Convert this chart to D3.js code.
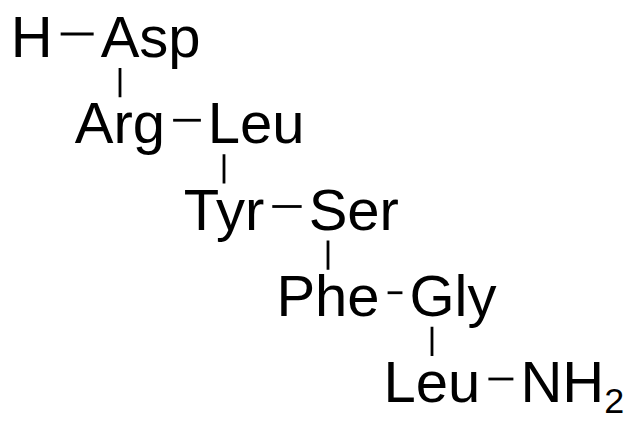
<!DOCTYPE html>
<html>
<head>
<meta charset="utf-8">
<script src="https://cdnjs.cloudflare.com/ajax/libs/d3/7.8.5/d3.min.js"></script>
<style>
  body { margin: 0; background: #fff; }
  svg text { font-family: "Liberation Sans", Arial, sans-serif; fill: #000; }
</style>
</head>
<body>
<div id="chart"></div>
<script>
// peptide H-Asp-Arg-Leu-Tyr-Ser-Phe-Gly-Leu-NH2, drawn as a staircase
var leftLabels = ["H", "Arg", "Tyr", "Phe", "Leu"];
var rightLabels = ["Asp", "Leu", "Ser", "Gly", "NH2"];
var rowIndex = [0, 1, 2, 3, 4];

var width = 640, height = 430;
var fontSize = 58;

var svg = d3.select("#chart").append("svg")
    .attr("width", width)
    .attr("height", height);

// row -> baseline, row -> column of the vertical bond
var y = d3.scaleLinear().domain([0, 4]).range([57, 402]);
var col = d3.scaleLinear().domain([0, 3]).range([120, 432]);

var bonds = svg.append("g").attr("stroke", "#000").attr("stroke-width", 2.8);
var labels = svg.append("g").attr("font-size", fontSize);

function addLabel(txt, x, yy, anchor) {
    var t = labels.append("text")
        .attr("x", x).attr("y", yy)
        .attr("text-anchor", anchor);
    // digits become subscripts (NH2)
    var m = txt.match(/^([A-Za-z]+)(\d*)$/);
    t.append("tspan").text(m[1]);
    if (m[2]) {
        t.append("tspan")
            .attr("font-size", fontSize * 0.62)
            .attr("dy", 11)
            .text(m[2]);
    }
    return t;
}

rowIndex.forEach(function(r) {
    var base = y(r);
    var right, left, rightStart;

    if (r < rowIndex.length - 1) {
        // first glyph of the right residue sits on the bond column
        right = addLabel(rightLabels[r], 0, base, "start");
        var w0 = right.node().getSubStringLength(0, 1);
        rightStart = col(r) - w0 / 2;
        right.attr("x", rightStart);
    }

    if (r === 0) {
        left = addLabel(leftLabels[r], rightStart - 48, base, "end");
    } else {
        left = addLabel(leftLabels[r], col(r - 1), base, "middle");
    }
    var lb = left.node().getBBox();
    var leftEnd = lb.x + lb.width;

    if (r === rowIndex.length - 1) {
        rightStart = leftEnd + 40;
        right = addLabel(rightLabels[r], rightStart, base, "start");
    }

    // horizontal peptide bond
    bonds.append("line")
        .attr("x1", leftEnd + 8).attr("x2", rightStart - 7)
        .attr("y1", base - 23).attr("y2", base - 23);

    // vertical bond down to next row
    if (r < rowIndex.length - 1) {
        bonds.append("line")
            .attr("x1", col(r)).attr("x2", col(r))
            .attr("y1", base + 11).attr("y2", y(r + 1) - 46);
    }
});
</script>
</body>
</html>
